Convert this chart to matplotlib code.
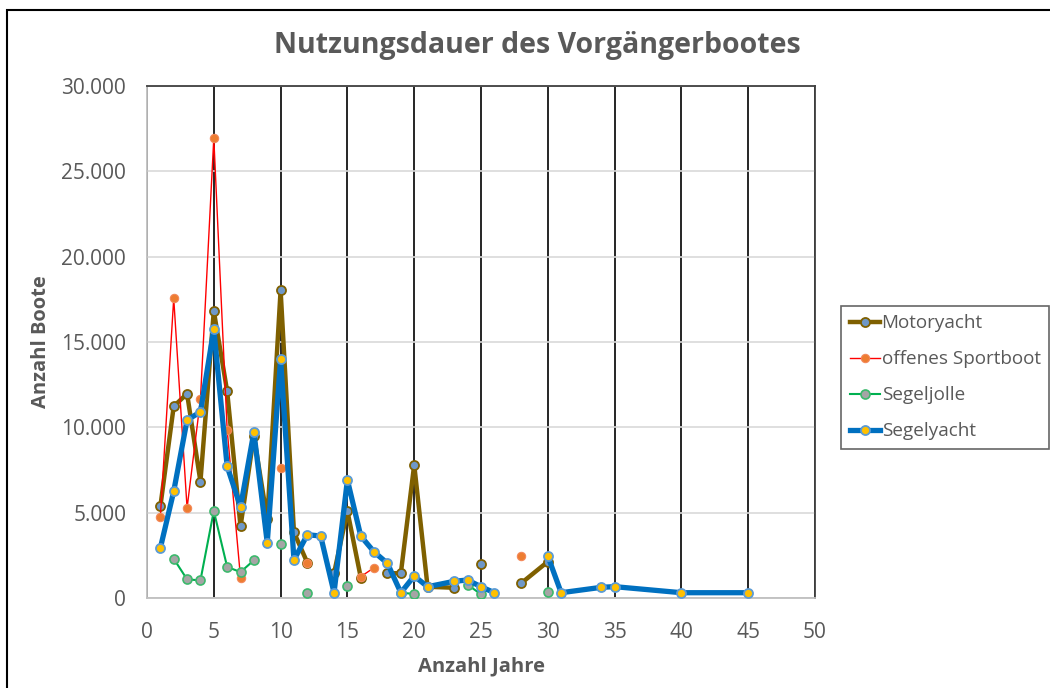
import numpy as np
import matplotlib
matplotlib.use("Agg")
import matplotlib.pyplot as plt
from matplotlib.ticker import FuncFormatter

nan = np.nan

jahre = [1, 2, 3, 4, 5, 6, 7, 8, 9, 10, 11, 12, 13, 14, 15, 16, 17, 18, 19, 20,
         21, 23, 24, 25, 26, 28, 30, 31, 34, 35, 40, 45]

motoryacht = [5370, 11230, 11970, 6820, 16820, 12110, 4200, 9500, 4600, 18030,
              3850, 2070, nan, 1450, 5100, 1200, nan, 1450, 1450, 7810,
              660, 600, nan, 1990, nan, 860, 2130, nan, nan, nan, nan, nan]

sportboot = [4750, 17560, 5270, 11640, 26940, 9860, 1190, nan, nan, 7640,
             nan, 2030, nan, nan, nan, 1250, 1780, nan, nan, nan,
             nan, nan, nan, nan, nan, 2480, nan, nan, nan, nan, nan, nan]

segeljolle = [nan, 2300, 1090, 1035, 5100, 1820, 1520, 2210, nan, 3145,
              nan, 270, nan, nan, 720, nan, nan, nan, 310, 235,
              nan, nan, 780, 215, nan, nan, 330, nan, nan, nan, nan, nan]

segelyacht = [2930, 6250, 10430, 10900, 15750, 7715, 5330, 9725, 3240, 13990,
              2230, 3710, 3630, 310, 6915, 3630, 2700, 2030, 310, 1290,
              660, 980, 1055, 660, 310, nan, 2460, 310, 625, 665, 310, 310]

x_ticks = list(range(0, 51, 5))
y_ticks = list(range(0, 30001, 5000))

GREY = "#595959"
FONT = ["Open Sans", "DejaVu Sans"]
plt.rcParams["font.family"] = FONT

fig = plt.figure(figsize=(10.5, 6.88), dpi=100)
ax = fig.add_axes([147 / 1050, 1 - 598 / 688, 668 / 1050, 512 / 688])

x = np.array(jahre, dtype=float)

ax.plot(x, np.array(motoryacht, dtype=float), color="#7F6000", lw=3.2,
        marker="o", ms=6.5, mfc="#6F98C8", mec="#7F6000", mew=1.3,
        label="Motoryacht", zorder=3)
ax.plot(x, np.array(sportboot, dtype=float), color="#FF0000", lw=1.0,
        marker="o", ms=6, mfc="#ED7D31", mec="#F4885A", mew=0.8,
        label="offenes Sportboot", zorder=4)
ax.plot(x, np.array(segeljolle, dtype=float), color="#00B050", lw=1.5,
        marker="o", ms=6.5, mfc="#A5A5A5", mec="#3CB96C", mew=1.2,
        label="Segeljolle", zorder=5)
ax.plot(x, np.array(segelyacht, dtype=float), color="#0070C0", lw=3.8,
        marker="o", ms=6.5, mfc="#FFC000", mec="#5B9BD5", mew=1.3,
        label="Segelyacht", zorder=6)

ax.set_xlim(0, 50)
ax.set_ylim(0, 30000)
ax.set_xticks(x_ticks)
ax.set_yticks(y_ticks)
ax.yaxis.set_major_formatter(FuncFormatter(lambda v, p: f"{int(v):,}".replace(",", ".")))

ax.grid(axis="y", color="#D9D9D9", lw=1.2, zorder=0)
ax.grid(axis="x", color="black", lw=1.2, zorder=0)
ax.set_axisbelow(True)

ax.tick_params(length=0, labelsize=15, labelcolor=GREY)
ax.tick_params(axis="x", pad=17)
ax.tick_params(axis="y", pad=15)

ax.spines["left"].set_color("#BFBFBF")
ax.spines["bottom"].set_color("#BFBFBF")
ax.spines["top"].set_color("#404040")
ax.spines["right"].set_color("#404040")
for s in ax.spines.values():
    s.set_linewidth(1.3)

ax.set_xlabel("Anzahl Jahre", fontsize=14.5, fontweight="bold", color=GREY, labelpad=10)
ax.set_ylabel("Anzahl Boote", fontsize=14.5, fontweight="bold", color=GREY, labelpad=7)

fig.text(537 / 1050, 1 - 45 / 688, "Nutzungsdauer des Vorgängerbootes",
         ha="center", va="center", fontsize=20.5, fontweight="bold", color=GREY)

leg = ax.legend(loc="upper left", bbox_to_anchor=(841 / 1050, 1 - 306 / 688),
                bbox_transform=fig.transFigure, fontsize=13.6, frameon=True,
                fancybox=False, handlelength=1.6, handletextpad=0.1,
                labelspacing=0.95, borderpad=0.45, borderaxespad=0)
leg.get_frame().set_edgecolor("#404040")
leg.get_frame().set_linewidth(1.2)
for t in leg.get_texts():
    t.set_color(GREY)

# outer chart border
border = plt.Rectangle((7 / 1050, -0.1), 1.2, 1.1 - 10 / 688, fill=False,
                       lw=1.5, edgecolor="black", transform=fig.transFigure)
fig.patches.append(border)

fig.savefig("out.png", dpi=100)
